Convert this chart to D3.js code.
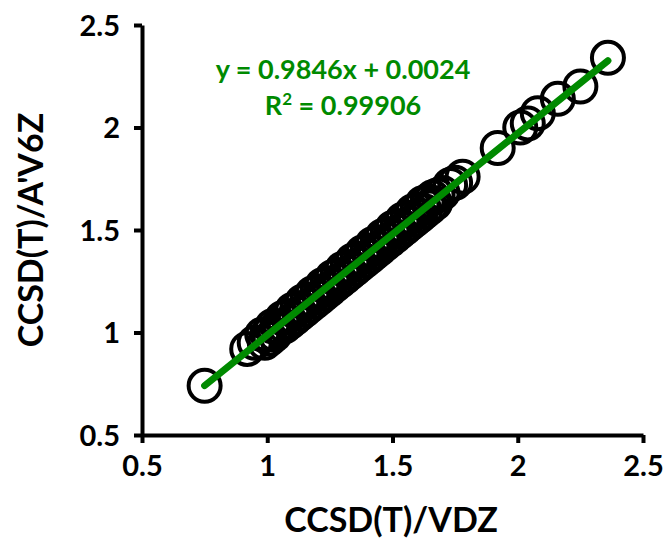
<!DOCTYPE html>
<html>
<head>
<meta charset="utf-8">
<script src="https://cdn.jsdelivr.net/npm/d3@7"></script>
<style>
  body { margin: 0; background: #fff; }
  text { font-family: Lato, "Open Sans", sans-serif; font-weight: bold; }
</style>
</head>
<body>
<div id="canvas"></div>
<script>
// values
var xValues = [0.75, 0.92, 0.95,
    0.98, 0.99, 1.00, 1.01, 1.02, 1.03, 1.04, 1.05, 1.06, 1.07, 1.08, 1.09, 1.10,
    1.11, 1.12, 1.13, 1.14, 1.15, 1.16, 1.17, 1.18, 1.19, 1.20, 1.21, 1.22, 1.23, 1.24, 1.25,
    1.26, 1.27, 1.28, 1.29, 1.30, 1.31, 1.32, 1.33, 1.34, 1.35, 1.36, 1.37, 1.38, 1.39, 1.40,
    1.41, 1.42, 1.43, 1.44, 1.45, 1.46, 1.47, 1.48, 1.49, 1.50, 1.51, 1.52, 1.53, 1.54, 1.55,
    1.56, 1.57, 1.58, 1.59, 1.60, 1.61, 1.62, 1.63, 1.64, 1.65, 1.66, 1.67, 1.68, 1.70,
    1.73, 1.75, 1.78,
    1.92, 2.01, 2.04, 2.08, 2.16, 2.25, 2.36];
var yValues = [0.74, 0.92, 0.95,
    0.99, 0.95, 0.99, 0.97, 1.03, 0.99, 1.03, 1.02, 1.07, 1.03, 1.08, 1.05, 1.11,
    1.07, 1.12, 1.09, 1.15, 1.11, 1.16, 1.13, 1.19, 1.15, 1.20, 1.17, 1.23, 1.19, 1.24, 1.21,
    1.27, 1.23, 1.28, 1.25, 1.31, 1.27, 1.32, 1.29, 1.35, 1.31, 1.36, 1.33, 1.39, 1.35, 1.40,
    1.37, 1.43, 1.39, 1.44, 1.41, 1.47, 1.43, 1.48, 1.45, 1.51, 1.47, 1.52, 1.49, 1.55, 1.51,
    1.56, 1.53, 1.59, 1.55, 1.60, 1.57, 1.63, 1.59, 1.64, 1.61, 1.66, 1.63, 1.67, 1.68,
    1.72, 1.73, 1.76,
    1.90, 2.00, 2.02, 2.07, 2.14, 2.20, 2.34];
var tickValues = [0.5, 1, 1.5, 2, 2.5];
var slope = 0.9846, intercept = 0.0024;
var eqLabel = "y = 0.9846x + 0.0024";
var r2Value = "0.99906";

var width = 664,
    height = 539;

var svg = d3.select("#canvas")
    .append("svg")
    .attr("width", width)
    .attr("height", height);

var x = d3.scaleLinear().domain([0.5, 2.5]).range([142, 643]);
var y = d3.scaleLinear().domain([0.5, 2.5]).range([435, 25]);

var fmt = function(d) { return d3.format("")(d); };

// x axis
var gx = svg.append("g")
    .attr("transform", "translate(0," + y(0.5) + ")")
    .call(d3.axisBottom(x).tickValues(tickValues).tickSize(8).tickSizeOuter(0).tickPadding(12).tickFormat(fmt));

// y axis
var gy = svg.append("g")
    .attr("transform", "translate(" + x(0.5) + ",0)")
    .call(d3.axisLeft(y).tickValues(tickValues).tickSize(8).tickSizeOuter(0).tickPadding(14).tickFormat(fmt));

[gx, gy].forEach(function(g) {
    g.select(".domain").attr("stroke", "#000").attr("stroke-width", 4);
    g.selectAll(".tick line").attr("stroke", "#000").attr("stroke-width", 4);
    g.selectAll(".tick text").attr("fill", "#000").style("font-size", "29px");
});
gy.selectAll(".tick text").attr("dy", "0.35em");

// points
var pts = d3.zip(xValues, yValues);
svg.append("g")
    .selectAll("circle")
    .data(pts)
    .enter()
    .append("circle")
    .attr("cx", function(d) { return x(d[0]); })
    .attr("cy", function(d) { return y(d[1]); })
    .attr("r", 16)
    .attr("fill", "none")
    .attr("stroke", "#000")
    .attr("stroke-width", 4);

// trend line
var xMin = d3.min(xValues), xMax = d3.max(xValues);
svg.append("line")
    .attr("x1", x(xMin))
    .attr("y1", y(slope * xMin + intercept))
    .attr("x2", x(xMax))
    .attr("y2", y(slope * xMax + intercept))
    .attr("stroke", "#008a00")
    .attr("stroke-width", 7)
    .attr("stroke-linecap", "round");

// equation
var eq = svg.append("g").attr("fill", "#008a00").style("font-size", "27px").attr("text-anchor", "middle");
eq.append("text").attr("x", 343).attr("y", 79).text(eqLabel);
var r2 = eq.append("text").attr("x", 343).attr("y", 115);
r2.append("tspan").text("R");
r2.append("tspan").attr("dy", -10).style("font-size", "17px").text("2");
r2.append("tspan").attr("dy", 10).text(" = " + r2Value);

// axis titles
svg.append("text")
    .attr("x", 391)
    .attr("y", 532)
    .attr("text-anchor", "middle")
    .style("font-size", "34px")
    .text("CCSD(T)/VDZ");

svg.append("text")
    .attr("transform", "translate(43,230) rotate(-90)")
    .attr("text-anchor", "middle")
    .style("font-size", "34px")
    .text("CCSD(T)/A'V6Z");
</script>
</body>
</html>
